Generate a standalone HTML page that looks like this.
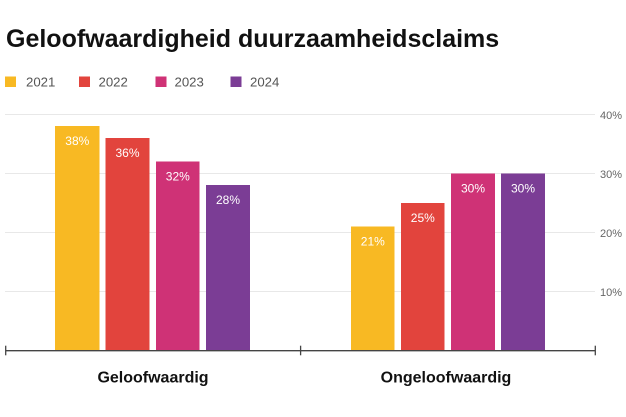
<!DOCTYPE html>
<html>
<head>
<meta charset="utf-8">
<style>
  html, body { margin: 0; padding: 0; background: #ffffff; }
  body { width: 626px; height: 417px; overflow: hidden; }
  svg { display: block; }
  text { font-family: "Liberation Sans", "DejaVu Sans", sans-serif; }
</style>
</head>
<body>
<svg width="626" height="417" viewBox="0 0 626 417" xmlns="http://www.w3.org/2000/svg">
  <rect x="0" y="0" width="626" height="417" fill="#ffffff"/>

  <!-- Title -->
  <text x="6" y="47" font-size="25" font-weight="bold" fill="#111111">Geloofwaardigheid duurzaamheidsclaims</text>

  <!-- Legend -->
  <rect x="5" y="76.5" width="11" height="10.5" fill="#F8B923"/>
  <text x="26" y="86.5" font-size="13.2" fill="#555555">2021</text>
  <rect x="79" y="76.5" width="11" height="10.5" fill="#E2443D"/>
  <text x="98.5" y="86.5" font-size="13.2" fill="#555555">2022</text>
  <rect x="155.5" y="76.5" width="11" height="10.5" fill="#CF3276"/>
  <text x="174.5" y="86.5" font-size="13.2" fill="#555555">2023</text>
  <rect x="230.5" y="76.5" width="11" height="10.5" fill="#7B3D95"/>
  <text x="250" y="86.5" font-size="13.2" fill="#555555">2024</text>

  <!-- Gridlines -->
  <g stroke="#e8e8e8" stroke-width="1">
    <line x1="5" y1="114.5" x2="595" y2="114.5"/>
    <line x1="5" y1="173.5" x2="595" y2="173.5"/>
    <line x1="5" y1="232.5" x2="595" y2="232.5"/>
    <line x1="5" y1="291.5" x2="595" y2="291.5"/>
  </g>

  <!-- Y labels -->
  <g font-size="11" fill="#666666">
    <text x="600" y="119">40%</text>
    <text x="600" y="178">30%</text>
    <text x="600" y="237">20%</text>
    <text x="600" y="296">10%</text>
  </g>

  <!-- Bars group 1 -->
  <rect x="55" y="126" width="44.5" height="224.5" fill="#F8B923"/>
  <rect x="105.5" y="138" width="44" height="212.5" fill="#E2443D"/>
  <rect x="156" y="161.5" width="43.5" height="189" fill="#CF3276"/>
  <rect x="206" y="185" width="44" height="165.5" fill="#7B3D95"/>

  <!-- Bars group 2 -->
  <rect x="351" y="226.5" width="43.5" height="124" fill="#F8B923"/>
  <rect x="401" y="203" width="43.5" height="147.5" fill="#E2443D"/>
  <rect x="451" y="173.5" width="44" height="177" fill="#CF3276"/>
  <rect x="501" y="173.5" width="44" height="177" fill="#7B3D95"/>

  <!-- Value labels -->
  <g font-size="12" fill="#ffffff" text-anchor="middle">
    <text x="77.3" y="145">38%</text>
    <text x="127.5" y="157">36%</text>
    <text x="177.8" y="180.5">32%</text>
    <text x="228" y="204">28%</text>
    <text x="372.8" y="245.5">21%</text>
    <text x="422.8" y="222">25%</text>
    <text x="473" y="192.5">30%</text>
    <text x="523" y="192.5">30%</text>
  </g>

  <!-- X axis -->
  <g stroke="#444444" stroke-width="1.3">
    <line x1="5.5" y1="350.7" x2="595.5" y2="350.7"/>
    <line x1="5.7" y1="345.7" x2="5.7" y2="355.3"/>
    <line x1="300.6" y1="345.7" x2="300.6" y2="355.3"/>
    <line x1="595.3" y1="345.7" x2="595.3" y2="355.3"/>
  </g>

  <!-- Category labels -->
  <g font-size="16" font-weight="bold" fill="#111111" text-anchor="middle">
    <text x="153" y="382.5">Geloofwaardig</text>
    <text x="446" y="382.5">Ongeloofwaardig</text>
  </g>
</svg>
</body>
</html>
